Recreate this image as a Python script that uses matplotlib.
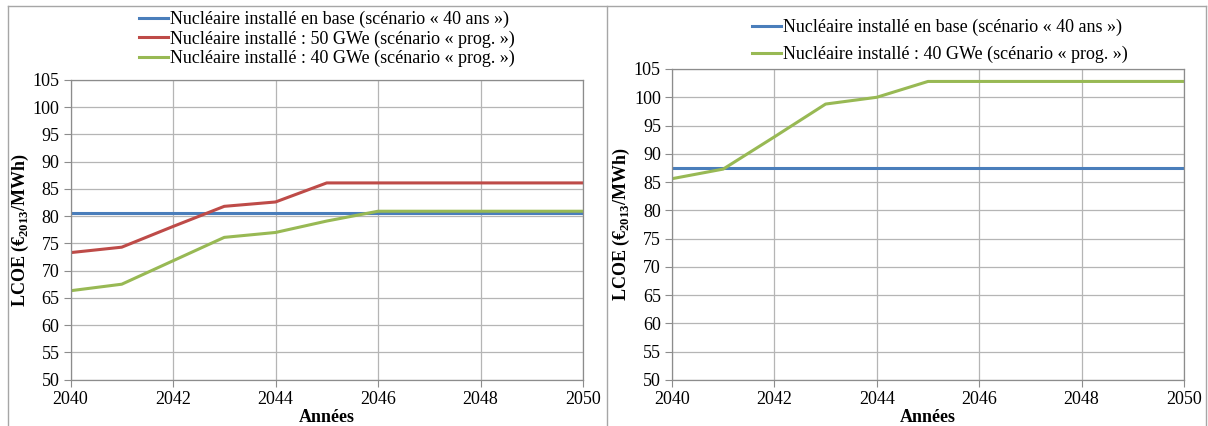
import matplotlib
matplotlib.use("Agg")
import matplotlib.pyplot as plt
from matplotlib.lines import Line2D

plt.rcParams['font.family'] = ['Liberation Serif', 'DejaVu Serif']
plt.rcParams['mathtext.fontset'] = 'custom'
plt.rcParams['mathtext.rm'] = 'Liberation Serif'
plt.rcParams['mathtext.bf'] = 'Liberation Serif:bold'

years = [2040, 2041, 2042, 2043, 2044, 2045, 2046, 2047, 2048, 2049, 2050]

# Left panel
left_base = [80.5] * 11
left_50 = [73.3, 74.3, 78.1, 81.8, 82.6, 86.1, 86.1, 86.1, 86.1, 86.1, 86.1]
left_40 = [66.3, 67.5, 71.8, 76.1, 77.0, 79.1, 80.9, 80.9, 80.9, 80.9, 80.9]

# Right panel
right_base = [87.5] * 11
right_40 = [85.6, 87.3, 93.0, 98.8, 100.0, 102.8, 102.8, 102.8, 102.8, 102.8, 102.8]

lbl_base = "Nucléaire installé en base (scénario « 40 ans »)"
lbl_50 = "Nucléaire installé : 50 GWe (scénario « prog. »)"
lbl_40 = "Nucléaire installé : 40 GWe (scénario « prog. »)"

yticks = list(range(50, 106, 5))
xticks = [2040, 2042, 2044, 2046, 2048, 2050]

C_BLUE = '#4a7ebb'
C_RED = '#be4b48'
C_GREEN = '#98b954'

W, H = 1208, 426
fig = plt.figure(figsize=(W / 100, H / 100), dpi=100)
FS = 13


def px_axes(x0, x1, ytop, ybot):
    return fig.add_axes([x0 / W, 1 - ybot / H, (x1 - x0) / W, (ybot - ytop) / H])


def style(ax):
    ax.set_xlim(2040, 2050)
    ax.set_ylim(50, 105)
    ax.set_xticks(xticks)
    ax.set_yticks(yticks)
    ax.grid(True, color='#b5b5b5', lw=0.9)
    ax.set_axisbelow(True)
    for s in ax.spines.values():
        s.set_color('#8c8c8c')
        s.set_linewidth(0.9)
    ax.tick_params(direction='out', length=5, color='#8c8c8c', labelsize=FS, pad=3)
    ax.set_xlabel('Années', fontsize=FS, fontweight='bold', labelpad=1)
    ax.set_ylabel(r'LCOE (€$_{\mathbf{2013}}$/MWh)', fontsize=FS, fontweight='bold', labelpad=1)


lw = 2.2
ax1 = px_axes(70.5, 583, 80, 379.5)
ax1.plot(years, left_base, color=C_BLUE, lw=lw, label=lbl_base)
ax1.plot(years, left_50, color=C_RED, lw=lw, label=lbl_50)
ax1.plot(years, left_40, color=C_GREEN, lw=lw, label=lbl_40)
style(ax1)

ax2 = px_axes(672, 1184, 69, 380)
ax2.plot(years, right_base, color=C_BLUE, lw=lw, label=lbl_base)
ax2.plot(years, right_40, color=C_GREEN, lw=lw, label=lbl_40)
style(ax2)

h1, l1 = ax1.get_legend_handles_labels()
fig.legend(h1, l1, loc='center', bbox_to_anchor=(327 / W, 1 - 39 / H),
           frameon=False, fontsize=FS, handlelength=1.6, handletextpad=0.1,
           labelspacing=0.13, borderpad=0)
h2, l2 = ax2.get_legend_handles_labels()
fig.legend(h2, l2, loc='center', bbox_to_anchor=(940 / W, 1 - 41 / H),
           frameon=False, fontsize=FS, handlelength=1.6, handletextpad=0.1,
           labelspacing=0.55, borderpad=0)

# panel frames
fc = '#a6a6a6'
for x in (8, 607, 1206):
    fig.add_artist(Line2D([x / W, x / W], [0, 1 - 6 / H], transform=fig.transFigure, color=fc, lw=1))
fig.add_artist(Line2D([8 / W, 1206 / W], [1 - 6 / H, 1 - 6 / H], transform=fig.transFigure, color=fc, lw=1))

fig.savefig('out.png', dpi=100)
